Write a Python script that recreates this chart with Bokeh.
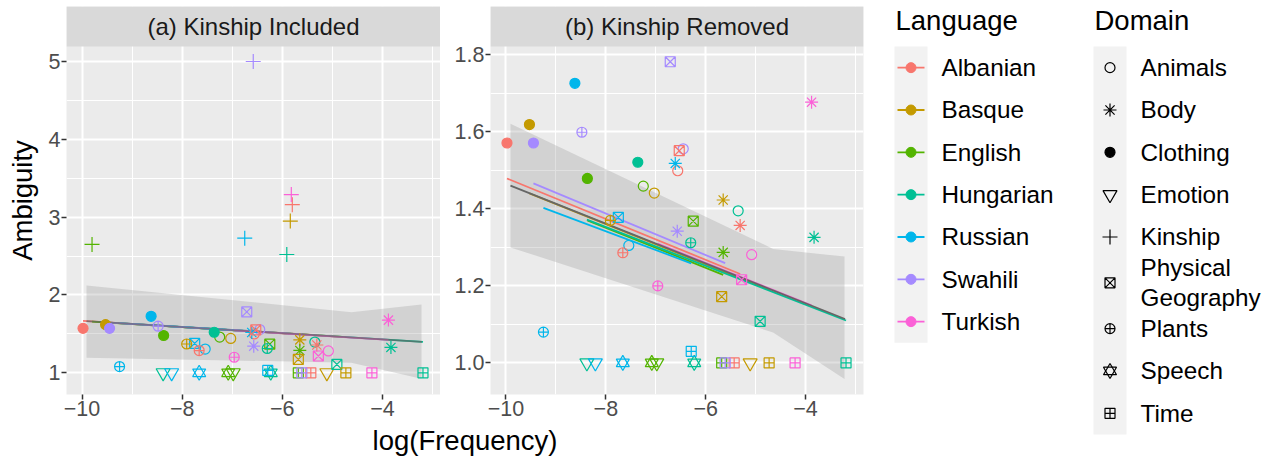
from bokeh.plotting import figure
from bokeh.models import Range1d, FixedTicker, ColumnDataSource, Label, PrintfTickFormatter
from bokeh.layouts import row, column
from bokeh.embed import file_html
from bokeh.resources import INLINE
from bokeh.core.properties import value

FONT = "Liberation Sans"

# ---------------- data ----------------
languages = ["Albanian", "Basque", "English", "Hungarian", "Russian", "Swahili", "Turkish"]
lang_colors = ["#F8766D", "#C49A00", "#53B400", "#00C094", "#00B6EB", "#A58AFF", "#FB61D7"]
domains = ["Animals", "Body", "Clothing", "Emotion", "Kinship",
           "Physical Geography", "Plants", "Speech", "Time"]

point_lang = (["Albanian"] * 7 + ["Basque"] * 8 + ["English"] * 8 + ["Hungarian"] * 9
              + ["Russian"] * 9 + ["Swahili"] * 7 + ["Turkish"] * 6)
point_domain = [
    # Albanian
    "Clothing", "Animals", "Body", "Physical Geography", "Plants", "Time", "Kinship",
    # Basque
    "Clothing", "Animals", "Body", "Physical Geography", "Plants", "Emotion", "Time", "Kinship",
    # English
    "Clothing", "Animals", "Body", "Physical Geography", "Emotion", "Speech", "Time", "Kinship",
    # Hungarian
    "Clothing", "Animals", "Body", "Physical Geography", "Plants", "Emotion", "Speech", "Time", "Kinship",
    # Russian
    "Clothing", "Animals", "Body", "Physical Geography", "Plants", "Emotion", "Speech", "Time", "Kinship",
    # Swahili
    "Clothing", "Animals", "Body", "Physical Geography", "Plants", "Time", "Kinship",
    # Turkish
    "Animals", "Body", "Physical Geography", "Plants", "Time", "Kinship",
]
log_freq = [
    -9.98, -6.56, -5.31, -6.53, -7.66, -5.43, -5.80,
    -9.53, -7.03, -5.65, -5.68, -7.91, -5.11, -4.73, -5.84,
    -8.37, -7.25, -5.65, -6.25, -6.98, -7.08, -5.68, -9.80,
    -7.36, -5.35, -3.83, -4.91, -6.30, -8.38, -6.23, -3.19, -5.91,
    -8.62, -7.54, -6.61, -7.75, -9.25, -8.21, -7.66, -6.29, -6.75,
    -9.45, -6.45, -6.57, -6.71, -8.48, -5.61, -6.58,
    -5.08, -3.88, -5.28, -6.96, -4.21, -5.82,
]
ambiguity = [
    1.571, 1.499, 1.357, 1.551, 1.286, 1.000, 3.16,
    1.619, 1.441, 1.423, 1.172, 1.370, 1.000, 1.000, 2.95,
    1.479, 1.459, 1.287, 1.368, 1.000, 1.000, 1.000, 2.65,
    1.521, 1.395, 1.326, 1.108, 1.312, 1.000, 1.000, 1.000, 2.52,
    1.726, 1.305, 1.518, 1.378, 1.080, 1.000, 1.000, 1.030, 2.73,
    1.571, 1.556, 1.342, 1.782, 1.599, 1.000, 5.00,
    1.281, 1.677, 1.216, 1.200, 1.000, 3.29,
]

# fitted lines: y = intercept + slope * x
fit_a_intercept = [1.272, 1.271, 1.270, 1.271, 1.272, 1.271, 1.270]
fit_a_slope = [-0.0396] * 7
fit_b_intercept = [0.949, 0.9435, 0.935, 0.949, 0.953, 0.956, 0.948]
fit_b_slope = [-0.0531, -0.0521, -0.0520, -0.0505, -0.0486, -0.0540, -0.0520]
overall_a = (1.271, -0.0396)
overall_b = (0.948, -0.0517)
overall_range = (-9.91, -3.21)

ribbon_a_x = [-9.91, -4.62, -3.22]
ribbon_a_lo = [1.193, 1.13, 0.925]
ribbon_a_hi = [2.122, 1.779, 1.878]
ribbon_b_x = [-9.91, -4.65, -3.22]
ribbon_b_lo = [1.300, 1.079, 0.958]
ribbon_b_hi = [1.621, 1.296, 1.276]

x_ticks = [-10, -8, -6, -4]
x_minor = [-9, -7, -5, -3]
ya_ticks = [1, 2, 3, 4, 5]
ya_minor = [1.5, 2.5, 3.5, 4.5]
yb_ticks = [1.0, 1.2, 1.4, 1.6, 1.8]
yb_minor = [1.1, 1.3, 1.5, 1.7]

panel_titles = ["(a) Kinship Included", "(b) Kinship Removed"]

# ---------------- styling ----------------
color_of = dict(zip(languages, lang_colors))
marker_spec = {
    "Animals": [("circle", False, 10)],
    "Body": [("asterisk", False, 13)],
    "Clothing": [("circle", True, 10)],
    "Emotion": [("inverted_triangle", False, 14)],
    "Kinship": [("cross", False, 15)],
    "Physical Geography": [("square_x", False, 10)],
    "Plants": [("circle_cross", False, 10)],
    "Speech": [("triangle", False, 13), ("inverted_triangle", False, 13)],
    "Time": [("square_cross", False, 10)],
}
MLW = 1.2
XR = (-10.31, -2.84)
STRIP_PX = 40     # strip height in pixels
PANEL_PX = 348    # panel height in pixels
TOP_PAD = 6
BOTTOM_PX = 30


def draw_marker(p, xs, ys, cols, domain):
    src = ColumnDataSource(dict(x=xs, y=ys, c=cols))
    for mk, filled, sz in marker_spec[domain]:
        p.scatter("x", "y", source=src, marker=mk, size=sz, line_color="c",
                  fill_color="c" if filled else None, line_width=MLW)


def make_panel(width, left, right, ylo, yhi, yticks, yminor, title):
    # the frame holds the strip on top of the panel; extend the y range accordingly
    ytop = yhi + (yhi - ylo) * STRIP_PX / PANEL_PX
    p = figure(width=width, height=TOP_PAD + STRIP_PX + PANEL_PX + BOTTOM_PX,
               x_range=Range1d(*XR), y_range=Range1d(ylo, ytop),
               output_backend="svg", toolbar_location=None,
               min_border_left=left, min_border_right=right,
               min_border_top=TOP_PAD, min_border_bottom=BOTTOM_PX)
    p.background_fill_color = "#EBEBEB"
    p.border_fill_color = "white"
    p.outline_line_color = None
    p.xaxis.ticker = FixedTicker(ticks=x_ticks, minor_ticks=x_minor)
    p.yaxis.ticker = FixedTicker(ticks=yticks, minor_ticks=yminor)
    p.xaxis.major_label_overrides = {t: "\u2212" + str(abs(t)) for t in x_ticks}
    for ax in (p.xaxis[0], p.yaxis[0]):
        ax.axis_line_color = None
        ax.major_tick_line_color = "#333333"
        ax.major_tick_line_width = 1.5
        ax.major_tick_in = 0
        ax.major_tick_out = 5
        ax.minor_tick_line_color = None
        ax.major_label_text_color = "#4D4D4D"
        ax.major_label_text_font = FONT
        ax.major_label_text_font_size = "21.5px"
        ax.major_label_standoff = 1
    p.xgrid.ticker = p.xaxis[0].ticker
    p.ygrid.ticker = p.yaxis[0].ticker
    for g in (p.xgrid[0], p.ygrid[0]):
        g.grid_line_color = "white"
        g.grid_line_width = 2
        g.minor_grid_line_color = "white"
        g.minor_grid_line_width = 1
    p.quad(left=[XR[0]], right=[XR[1]], bottom=[yhi], top=[ytop],
           fill_color="#D9D9D9", line_color=None)
    p.add_layout(Label(x=(XR[0] + XR[1]) / 2, y=(yhi + ytop) / 2, text=title,
                       text_align="center", text_baseline="middle",
                       text_font=FONT, text_font_size="24px", text_color="#1A1A1A"))
    return p


def draw_panel(p, kinship, intercepts, slopes, overall, rx, rlo, rhi):
    p.varea(x=rx, y1=rlo, y2=rhi, fill_color="#999999", fill_alpha=0.3)
    idx_all = [i for i in range(len(log_freq)) if kinship or point_domain[i] != "Kinship"]
    for li, lang in enumerate(languages):
        xs = [log_freq[i] for i in idx_all if point_lang[i] == lang]
        x0, x1 = min(xs), max(xs)
        a, b = intercepts[li], slopes[li]
        p.line([x0, x1], [a + b * x0, a + b * x1], line_color=lang_colors[li], line_width=1.8)
    a, b = overall
    x0, x1 = overall_range
    p.line([x0, x1], [a + b * x0, a + b * x1], line_color="#666666", line_width=1.8,
           line_alpha=0.75 if kinship else 1.0)
    for d in domains:
        ids = [i for i in idx_all if point_domain[i] == d]
        if not ids:
            continue
        draw_marker(p, [log_freq[i] for i in ids], [ambiguity[i] for i in ids],
                    [color_of[point_lang[i]] for i in ids], d)


fa = make_panel(440, 66, 0, 0.721, 5.193, ya_ticks, ya_minor, panel_titles[0])
fa.yaxis.axis_label = "Ambiguity"
fa.yaxis.axis_label_text_font = FONT
fa.yaxis.axis_label_text_font_size = "27.5px"
fa.yaxis.axis_label_text_font_style = "normal"
fa.yaxis.axis_label_text_color = "black"
fa.yaxis.axis_label_standoff = 8
draw_panel(fa, True, fit_a_intercept, fit_a_slope, overall_a, ribbon_a_x, ribbon_a_lo, ribbon_a_hi)

fb = make_panel(440, 50, 17, 0.918, 1.8216, yb_ticks, yb_minor, panel_titles[1])
fb.yaxis.formatter = PrintfTickFormatter(format="%.1f")
draw_panel(fb, False, fit_b_intercept, fit_b_slope, overall_b, ribbon_b_x, ribbon_b_lo, ribbon_b_hi)

tf = figure(width=880, height=35, x_range=Range1d(0, 1), y_range=Range1d(0, 1),
            output_backend="svg", toolbar_location=None,
            x_axis_location=None, y_axis_location=None,
            min_border_left=66, min_border_right=17, min_border_top=0, min_border_bottom=0)
tf.outline_line_color = None
tf.grid.visible = False
tf.add_layout(Label(x=0.5, y=0.53, text="log(Frequency)", text_align="center", text_baseline="middle",
                    text_font=FONT, text_font_size="27.5px", text_color="black"))

# ---------------- legend ----------------
lf = figure(width=386, height=459, x_range=Range1d(880, 1266), y_range=Range1d(459, 0),
            output_backend="svg", toolbar_location=None,
            x_axis_location=None, y_axis_location=None,
            min_border_left=0, min_border_right=0, min_border_top=0, min_border_bottom=0)
lf.outline_line_color = None
lf.grid.visible = False

ROW = 42.33
KEY_TOP = 46
lang_y = [KEY_TOP + ROW * (i + 0.5) for i in range(len(languages))]
lf.quad(left=[894], right=[927], top=[KEY_TOP], bottom=[KEY_TOP + ROW * len(languages)],
        fill_color="#F2F2F2", line_color=None)
for i, lang in enumerate(languages):
    lf.line([897, 924], [lang_y[i], lang_y[i]], line_color=lang_colors[i], line_width=1.8)
lf.scatter(x=[910.5] * len(languages), y=lang_y, marker="circle", size=10,
           fill_color=lang_colors, line_color=lang_colors)
lf.text(x=[941] * len(languages), y=lang_y, text=languages, text_font=value(FONT),
        text_font_size=value("24.3px"), text_baseline="middle", text_align="left", text_color="black")

row_h = [ROW if d != "Physical Geography" else 49.3 for d in domains]
dom_y = []
acc = KEY_TOP
for h in row_h:
    dom_y.append(acc + h / 2)
    acc += h
lf.quad(left=[1093], right=[1126], top=[KEY_TOP], bottom=[acc], fill_color="#F2F2F2", line_color=None)
for d, yy in zip(domains, dom_y):
    draw_marker(lf, [1109.5], [yy], ["black"], d)
dom_labels = [d.replace(" ", "\n") for d in domains]
lf.text(x=[1140] * len(domains), y=dom_y, text=dom_labels, text_font=value(FONT),
        text_font_size=value("24.3px"), text_baseline="middle", text_align="left", text_color="black",
        text_line_height=1.1)
lf.text(x=[895, 1094], y=[20, 20], text=["Language", "Domain"], text_font=value(FONT),
        text_font_size=value("27.5px"), text_baseline="middle", text_align="left", text_color="black")

layout = row(column(row(fa, fb), tf), lf)
open("out.html", "w").write(file_html(layout, INLINE))
